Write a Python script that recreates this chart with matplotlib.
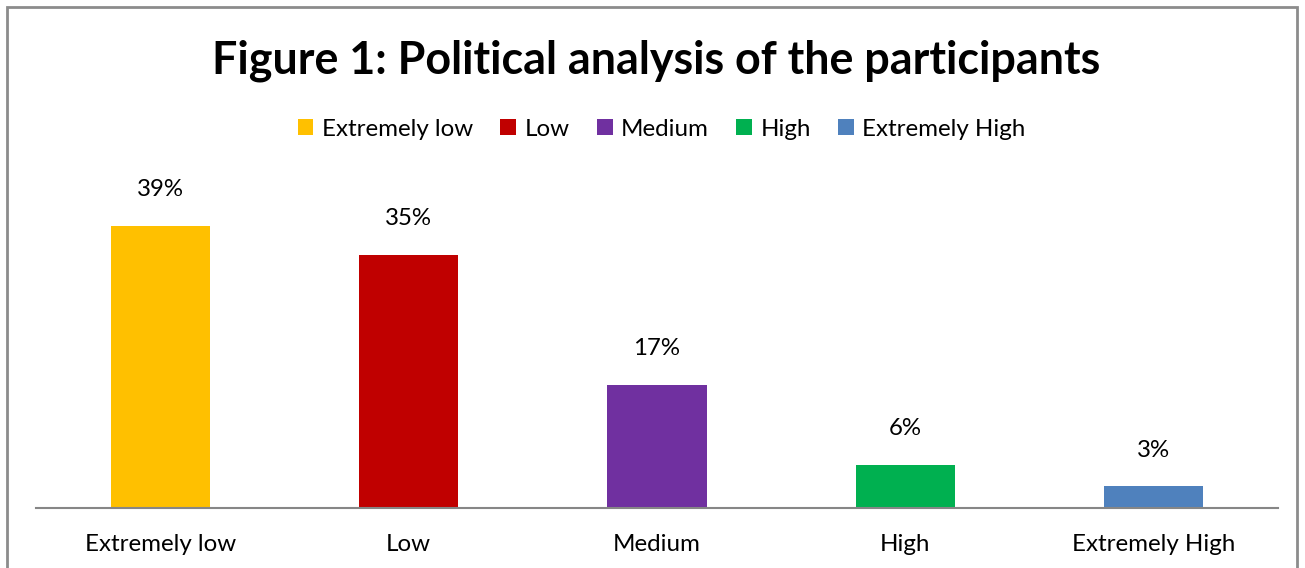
import matplotlib
matplotlib.use("Agg")
import matplotlib.pyplot as plt
from matplotlib.patches import Patch, Rectangle

categories = ["Extremely low", "Low", "Medium", "High", "Extremely High"]
values = [39, 35, 17, 6, 3]
labels = ["39%", "35%", "17%", "6%", "3%"]
colors = ["#FFC000", "#C00000", "#7030A0", "#00B050", "#4F81BD"]
title = "Figure 1: Political analysis of the participants"

plt.rcParams['font.family'] = ['Lato', 'DejaVu Sans']

W, H = 1305, 568
fig = plt.figure(figsize=(W / 100, H / 100), dpi=100)

# outer border
fig.patches.append(Rectangle((7 / W, -0.1), (1297 - 7) / W, 1.1 - 7 / H,
                             transform=fig.transFigure, fill=False,
                             edgecolor="#8c8c8c", linewidth=2))

ax_left, ax_right = 36 / W, 1278 / W
ax_bottom = 1 - 508 / H
ax_h = 347 / H
ax = fig.add_axes([ax_left, ax_bottom, ax_right - ax_left, ax_h])

x = list(range(len(categories)))
bars = ax.bar(x, values, width=0.4, color=colors)
ax.set_xlim(-0.5, len(categories) - 0.5)
ax.set_ylim(0, 48)

for xi, v, lab in zip(x, values, labels):
    ax.annotate(lab, (xi, v), xytext=(0, 26), textcoords="offset points",
                ha="center", va="center", fontsize=17.3, color="#000000")

ax.set_xticks(x)
ax.set_xticklabels(categories, fontsize=17.4)
ax.tick_params(axis="x", length=0, pad=18.5)
ax.set_yticks([])
for s in ["top", "right", "left"]:
    ax.spines[s].set_visible(False)
ax.spines["bottom"].set_color("#868686")
ax.spines["bottom"].set_linewidth(1.5)

fig.text(656.5 / W, 1 - 61 / H, title, ha="center", va="center",
         fontsize=32.3, fontweight="bold")

handles = [Patch(facecolor=c, label=l) for c, l in zip(colors, categories)]
fig.legend(handles=handles, loc="center", bbox_to_anchor=(661.5 / W, 1 - 129 / H),
           ncol=5, frameon=False, fontsize=17.4, handlelength=0.65,
           handleheight=0.65, handletextpad=0.35, columnspacing=1.13)

fig.savefig("out.png", dpi=100)
